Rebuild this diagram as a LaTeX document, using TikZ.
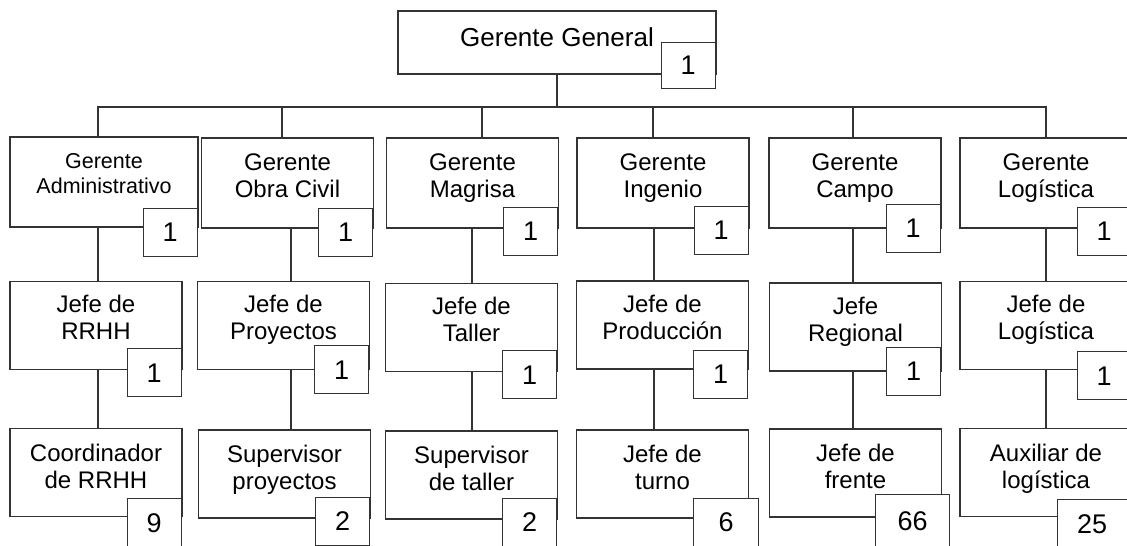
\documentclass[tikz,border=0pt]{standalone}
\usepackage{fontspec}
\setmainfont{Liberation Sans}
\usetikzlibrary{positioning}

\begin{document}
\begin{tikzpicture}
  [x=1pt,y=-1pt,
   cargo/.style={rectangle,draw=black!80,fill=white,line width=1.4pt,
                 inner sep=0pt,minimum width=172pt,minimum height=88pt},
   nombre/.style={anchor=north,align=center,inner sep=0pt,yshift=-16pt,
                  font=\fontsize{24}{27}\selectfont},
   cuenta/.style={rectangle,draw=black!80,fill=white,line width=1.2pt,
                  anchor=north east,inner sep=0pt,minimum width=54pt,
                  minimum height=48pt,font=\fontsize{27}{30}\selectfont},
   linea/.style={draw=black!80,line width=1.3pt}]
  \clip (0,0) rectangle (1127,546);

  % gerencia general
  \node[cargo,minimum width=318pt,minimum height=63pt,
        label={[nombre,yshift=-1pt,font=\fontsize{26}{29}\selectfont]north:Gerente General}]
        (gg) at (557,42.5) {};
  \coordinate (bus) at (557,107);

  % gerentes
  \node[cargo,minimum width=188pt,minimum height=90pt,
        label={[nombre,yshift=-1pt,font=\fontsize{21.5}{25}\selectfont]north:{Gerente\\Administrativo}}]
        (ga) at (104,182) {};
  \node[cargo,minimum height=90pt,label={[nombre]north:{Gerente\\Obra Civil}}] (goc) at (287.5,183) {};
  \node[cargo,minimum height=90pt,label={[nombre]north:{Gerente\\Magrisa}}] (gm) at (472.5,183) {};
  \node[cargo,minimum height=90pt,label={[nombre]north:{Gerente\\Ingenio}}] (gi) at (663,183) {};
  \node[cargo,minimum height=90pt,label={[nombre]north:{Gerente\\Campo}}] (gc) at (855,183) {};
  \node[cargo,minimum height=90pt,label={[nombre]north:{Gerente\\Logística}}] (gl) at (1046,183) {};

  % jefes
  \node[cargo,label={[nombre,yshift=1.5pt]north:{Jefe de\\RRHH}}] (ja) at (96,325.5) {};
  \node[cargo,label={[nombre,yshift=1.5pt]north:{Jefe de\\Proyectos}}] (jp) at (283.5,325.5) {};
  \node[cargo,label={[nombre,yshift=1.5pt]north:{Jefe de\\Taller}}] (jt) at (471.5,327.5) {};
  \node[cargo,label={[nombre,yshift=1.5pt]north:{Jefe de\\Producción}}] (jpr) at (662.5,325) {};
  \node[cargo,label={[nombre,yshift=1.5pt]north:{Jefe\\Regional}}] (jr) at (855.5,327) {};
  \node[cargo,label={[nombre,yshift=1.5pt]north:{Jefe de\\Logística}}] (jl) at (1046,325.5) {};

  % tercer nivel
  \node[cargo,label={[nombre]north:{Coordinador\\de RRHH}}] (ca) at (96,472.5) {};
  \node[cargo,label={[nombre]north:{Supervisor\\proyectos}}] (sp) at (284.5,474) {};
  \node[cargo,label={[nombre]north:{Supervisor\\de taller}}] (st) at (471.5,475) {};
  \node[cargo,label={[nombre]north:{Jefe de\\turno}}] (jtu) at (662.5,474) {};
  \node[cargo,label={[nombre]north:{Jefe de\\frente}}] (jf) at (855.5,473) {};
  \node[cargo,label={[nombre]north:{Auxiliar de\\logística}}] (al) at (1046,472.5) {};

  % lineas
  \draw[linea] (gg.south) -- (bus);
  \foreach \g/\j/\c/\xt/\xb in {ga/ja/ca/98/98, goc/jp/sp/282/291, gm/jt/st/482/472,
                                gi/jpr/jtu/653/654, gc/jr/jf/853/853, gl/jl/al/1046/1046}{
    \draw[linea] (\g.north -| \xt,0) |- (bus);
    \draw[linea] (\g.south -| \xb,0) -- (\j.north -| \xb,0);
    \draw[linea] (\j.south -| \xb,0) -- (\c.north -| \xb,0);
  }

  % cantidades
  \node[cuenta,minimum height=46pt] (ngg) at ([xshift=-1pt,yshift=33pt]gg.south east) {1};
  \node[cuenta] (nga) at ([xshift=-1pt,yshift=20pt]ga.south east) {1};
  \node[cuenta] (ngoc) at ([xshift=-1pt,yshift=21pt]goc.south east) {1};
  \node[cuenta] (ngm) at ([xshift=-1pt,yshift=22pt]gm.south east) {1};
  \node[cuenta] (ngi) at ([xshift=-1pt,yshift=23pt]gi.south east) {1};
  \node[cuenta] (ngc) at ([xshift=-1pt,yshift=25pt]gc.south east) {1};
  \node[cuenta] (ngl) at ([xshift=-1pt,yshift=22pt]gl.south east) {1};

  \node[cuenta] (nja) at ([xshift=-1pt,yshift=22pt]ja.south east) {1};
  \node[cuenta] (njp) at ([xshift=-1pt,yshift=25pt]jp.south east) {1};
  \node[cuenta] (njt) at ([xshift=-1pt,yshift=22pt]jt.south east) {1};
  \node[cuenta] (njpr) at ([xshift=-1pt,yshift=20pt]jpr.south east) {1};
  \node[cuenta] (njr) at ([xshift=-1pt,yshift=25pt]jr.south east) {1};
  \node[cuenta] (njl) at ([xshift=-1pt,yshift=19pt]jl.south east) {1};

  \node[cuenta] (nca) at ([xshift=-1pt,yshift=19pt]ca.south east) {9};
  \node[cuenta] (nsp) at ([xshift=-1pt,yshift=22pt]sp.south east) {2};
  \node[cuenta] (nst) at ([xshift=-1pt,yshift=22pt]st.south east) {2};
  \node[cuenta,minimum width=65pt] (njtu) at ([xshift=10pt,yshift=21pt]jtu.south east) {6};
  \node[cuenta,minimum width=74pt,minimum height=53pt] (njf) at ([xshift=8pt,yshift=24pt]jf.south east) {66};
  \node[cuenta,minimum width=70pt] (nal) at ([xshift=-5pt,yshift=18pt]al.south east) {25};
\end{tikzpicture}
\end{document}
